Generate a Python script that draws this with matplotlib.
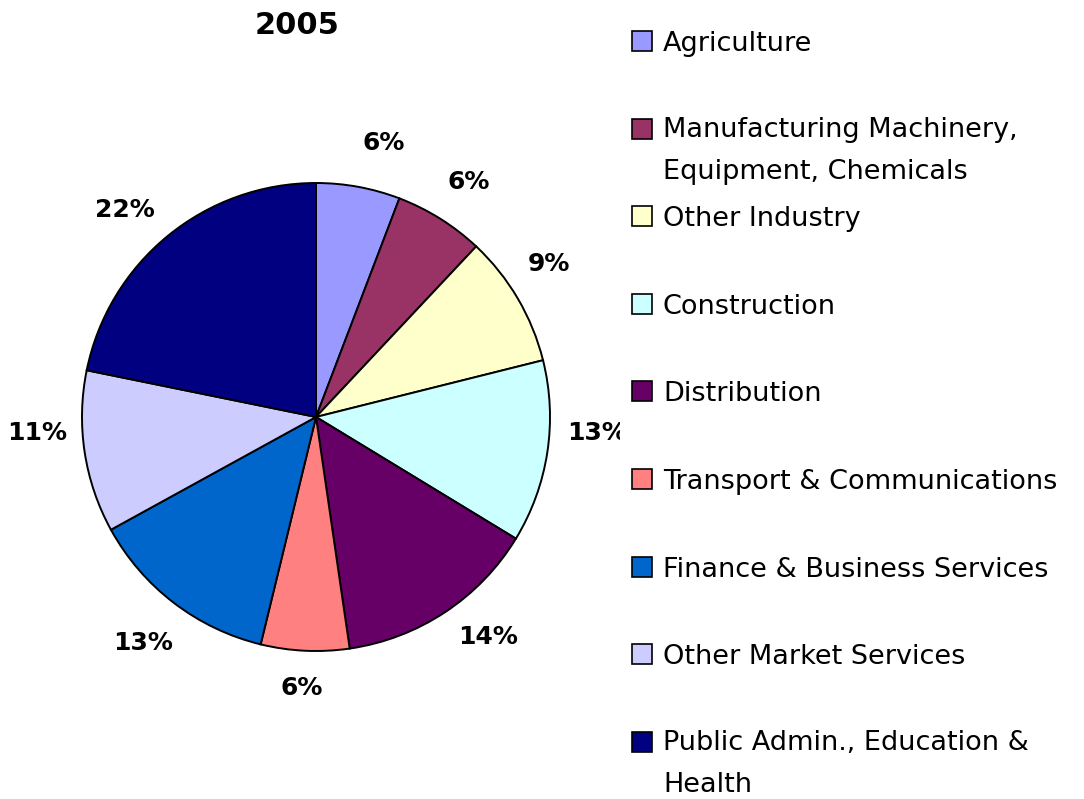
import matplotlib
matplotlib.use("Agg")
import numpy as np
import matplotlib.pyplot as plt
from matplotlib.patches import Rectangle

categories = ["Agriculture",
              "Manufacturing Machinery,\nEquipment, Chemicals",
              "Other Industry",
              "Construction",
              "Distribution",
              "Transport & Communications",
              "Finance & Business Services",
              "Other Market Services",
              "Public Admin., Education &\nHealth"]
values = [5.8, 6.2, 9.1, 12.6, 14.0, 6.1, 13.2, 11.2, 21.8]
colors = ["#9999FF", "#993366", "#FFFFCC", "#CCFFFF", "#660066",
          "#FF8080", "#0066CC", "#CCCCFF", "#000080"]
title = "2005"

# label nudges (pixels) to mimic spreadsheet-style label placement
label_nudge = [(16, -4), (2, -5), (-11, 10), (1, 27), (16, 16),
               (-1, 12), (-1, -1), (1, 27), (-12, -12)]

W, H = 1084, 799
fig = plt.figure(figsize=(W / 100, H / 100), dpi=100)
fig.patch.set_facecolor("white")

# pie axes: center (316,417) px, radius 234 px
R = 234
lim = 1.35
size = 2 * lim * R
cx, cy = 316, 417
ax = fig.add_axes([(cx - size / 2) / W, (H - cy - size / 2) / H, size / W, size / H])
wedges, _ = ax.pie(values, colors=colors, startangle=90, counterclock=False,
                   wedgeprops=dict(edgecolor="black", linewidth=1.4))
for w, v, (ndx, ndy) in zip(wedges, values, label_nudge):
    ang = np.deg2rad((w.theta1 + w.theta2) / 2)
    x = 1.21 * np.cos(ang) + ndx / R
    y = 1.21 * np.sin(ang) + ndy / R
    ax.text(x, y, f"{v:.0f}%", fontsize=18, fontweight="bold",
            ha="center", va="center", color="black")
ax.set_xlim(-lim, lim)
ax.set_ylim(-lim, lim)
ax.set_aspect("equal")
ax.axis("off")

fig.text(297 / W, 1 - 25 / H, title, fontsize=22, fontweight="bold",
         ha="center", va="center")

# legend area (white box that covers anything beneath it)
lx0 = 620
lax = fig.add_axes([lx0 / W, 0, (W - lx0) / W, 1])
lax.set_xlim(lx0, W)
lax.set_ylim(H, 0)
lax.set_facecolor("white")
for s in lax.spines.values():
    s.set_visible(False)
lax.set_xticks([])
lax.set_yticks([])
lax.set_zorder(5)

for i, (cat, col) in enumerate(zip(categories, colors)):
    y = 41 + 87.6 * i
    lax.add_patch(Rectangle((632, y - 10), 20, 20, facecolor=col,
                            edgecolor="black", linewidth=1.2))
    if "\n" in cat:
        lax.text(663, y - 12, cat, fontsize=19.5, ha="left", va="top",
                 linespacing=1.82, color="black")
    else:
        lax.text(663, y, cat, fontsize=19.5, ha="left", va="center_baseline",
                 color="black")

fig.savefig("out.png", dpi=100, facecolor="white")
